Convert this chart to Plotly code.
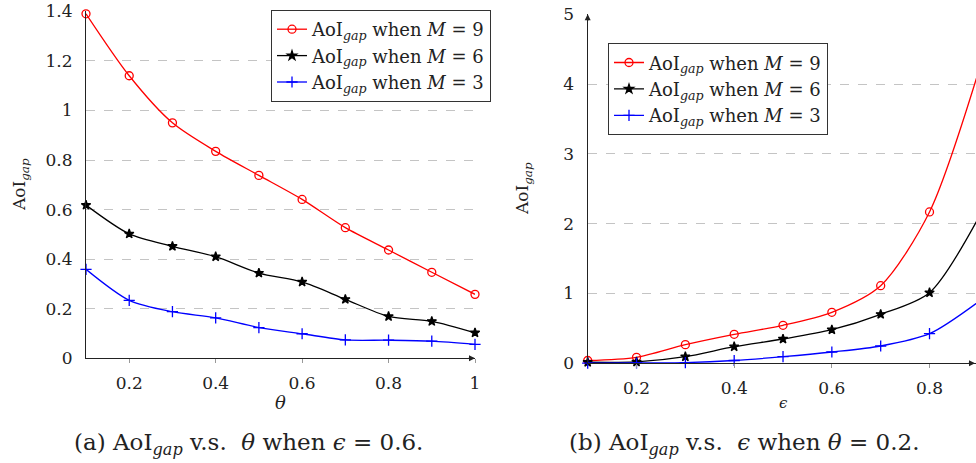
import plotly.graph_objects as go

# ---------------- data ----------------
theta = [0.1, 0.2, 0.3, 0.4, 0.5, 0.6, 0.7, 0.8, 0.9, 1.0]
left_m9 = [1.39, 1.14, 0.95, 0.835, 0.738, 0.641, 0.527, 0.437, 0.347, 0.258]
left_m6 = [0.618, 0.502, 0.452, 0.41, 0.344, 0.308, 0.238, 0.169, 0.149, 0.103]
left_m3 = [0.359, 0.234, 0.188, 0.163, 0.124, 0.099, 0.074, 0.073, 0.069, 0.056]

eps = [0.1, 0.2, 0.3, 0.4, 0.5, 0.6, 0.7, 0.8, 0.9]
right_m9 = [0.04, 0.086, 0.267, 0.415, 0.544, 0.731, 1.112, 2.168, 4.17]
right_m6 = [0.015, 0.02, 0.095, 0.238, 0.348, 0.481, 0.702, 1.012, 2.08]
right_m3 = [0.002, 0.004, 0.01, 0.04, 0.095, 0.162, 0.248, 0.424, 0.88]

series_names = [
    "AoI<sub><i>gap</i></sub> when <i>M</i> = 9",
    "AoI<sub><i>gap</i></sub> when <i>M</i> = 6",
    "AoI<sub><i>gap</i></sub> when <i>M</i> = 3",
]
colors = ["#ff0000", "#000000", "#0000ff"]
symbols = ["circle-open", "star", "cross-thin"]
msizes = [8, 7, 8]

FONT = "DejaVu Serif"
W, H = 976, 463

fig = go.Figure()

def add_series(xs, ys, i, xa, ya, legend):
    fig.add_trace(go.Scatter(
        x=xs, y=ys, name=series_names[i], mode="lines+markers",
        line=dict(color=colors[i], width=1.3, shape="spline", smoothing=0.8),
        marker=dict(symbol=symbols[i], size=msizes[i], color=colors[i],
                    line=dict(color=colors[i], width=1.3)),
        xaxis=xa, yaxis=ya, legend=legend, cliponaxis=False,
    ))

for i, ys in enumerate([left_m9, left_m6, left_m3]):
    add_series(theta, ys, i, "x", "y", "legend")
for i, ys in enumerate([right_m9, right_m6, right_m3]):
    add_series(eps, ys, i, "x2", "y2", "legend2")

tickfont = dict(family=FONT, size=17, color="#222")

def px_x(p):
    return p / W

def px_y(p):
    return 1 - p / H

common_x = dict(showline=True, linecolor="#222", linewidth=1.2, showgrid=False,
                zeroline=False, ticks="outside", ticklen=4, tickcolor="#999",
                tickfont=tickfont, dtick=0.2, tick0=0, automargin=False,
                ticklabelstandoff=5)
common_y = dict(showline=True, linecolor="#222", linewidth=1.2, showgrid=True,
                gridcolor="#c4c4c4", griddash="dash", gridwidth=1,
                zeroline=False, ticks="", tickfont=tickfont, automargin=False,
                ticklabelstandoff=9)

legend_common = dict(xanchor="left", yanchor="top", bgcolor="white",
                     bordercolor="#333", borderwidth=1,
                     font=dict(family=FONT, size=18, color="#222"),
                     itemwidth=30, tracegroupgap=0)

fig.update_layout(
    width=W, height=H,
    margin=dict(l=0, r=0, t=0, b=0),
    paper_bgcolor="white", plot_bgcolor="white",
    font=dict(family=FONT, size=18, color="#222"),
    xaxis=dict(domain=[px_x(86), px_x(475)], range=[0.1, 1.0], anchor="y", **common_x),
    yaxis=dict(domain=[px_y(358.3), px_y(11.3)], range=[0, 1.4], dtick=0.2, anchor="x", **common_y),
    xaxis2=dict(domain=[px_x(587.7), 1.0], range=[0.1, 0.1 + (976 - 587.7) / 488.3],
                anchor="y2", **common_x),
    yaxis2=dict(domain=[px_y(363.3), px_y(14.3)], range=[0, 5], dtick=1, anchor="x2", **common_y),
    legend=dict(x=px_x(271), y=px_y(10), **legend_common),
    legend2=dict(x=px_x(608), y=px_y(43.3), **legend_common),
    showlegend=True,
)

NB = "\u00a0"
annos = [
    # axis titles
    dict(text="AoI<sub><i>gap</i></sub>", x=px_x(20), y=px_y(185), textangle=-90, size=17),
    dict(text="AoI<sub><i>gap</i></sub>", x=px_x(523), y=px_y(189), textangle=-90, size=17),
    dict(text="<i>θ</i>", x=px_x(280), y=px_y(402), textangle=0, size=18),
    dict(text="<i>ϵ</i>", x=px_x(783), y=px_y(403), textangle=0, size=15),
    # captions
    dict(text="(a) AoI<sub><i>gap</i></sub> v.s." + NB + " <i>θ</i> when <i>ϵ</i>" + NB + "=" + NB + "0.6.",
         x=px_x(248), y=px_y(444), textangle=0, size=23),
    dict(text="(b) AoI<sub><i>gap</i></sub> v.s." + NB + " <i>ϵ</i> when <i>θ</i>" + NB + "=" + NB + "0.2.",
         x=px_x(744), y=px_y(444), textangle=0, size=23),
]
for a in annos:
    fig.add_annotation(text=a["text"], x=a["x"], y=a["y"], xref="paper", yref="paper",
                       showarrow=False, textangle=a["textangle"],
                       xanchor="center", yanchor="middle",
                       font=dict(family=FONT, size=a["size"], color="#222"))

# axis arrowheads
arrow = dict(text="", showarrow=True, arrowhead=2, arrowsize=1, arrowwidth=1.2,
             arrowcolor="#222")
fig.add_annotation(x=1.0, y=0, xref="x", yref="y", ax=-8, ay=0, **arrow)
fig.add_annotation(x=px_x(975), y=0, xref="paper", yref="y2", ax=-8, ay=0, **arrow)
fig.add_annotation(x=0.1, y=5, xref="x2", yref="y2", ax=0, ay=8, **arrow)

fig.write_html(
    "out.html",
    config={"displayModeBar": False},
    post_script="document.body.style.margin='0';document.body.style.padding='0';"
                "document.documentElement.style.overflow='hidden';",
)
